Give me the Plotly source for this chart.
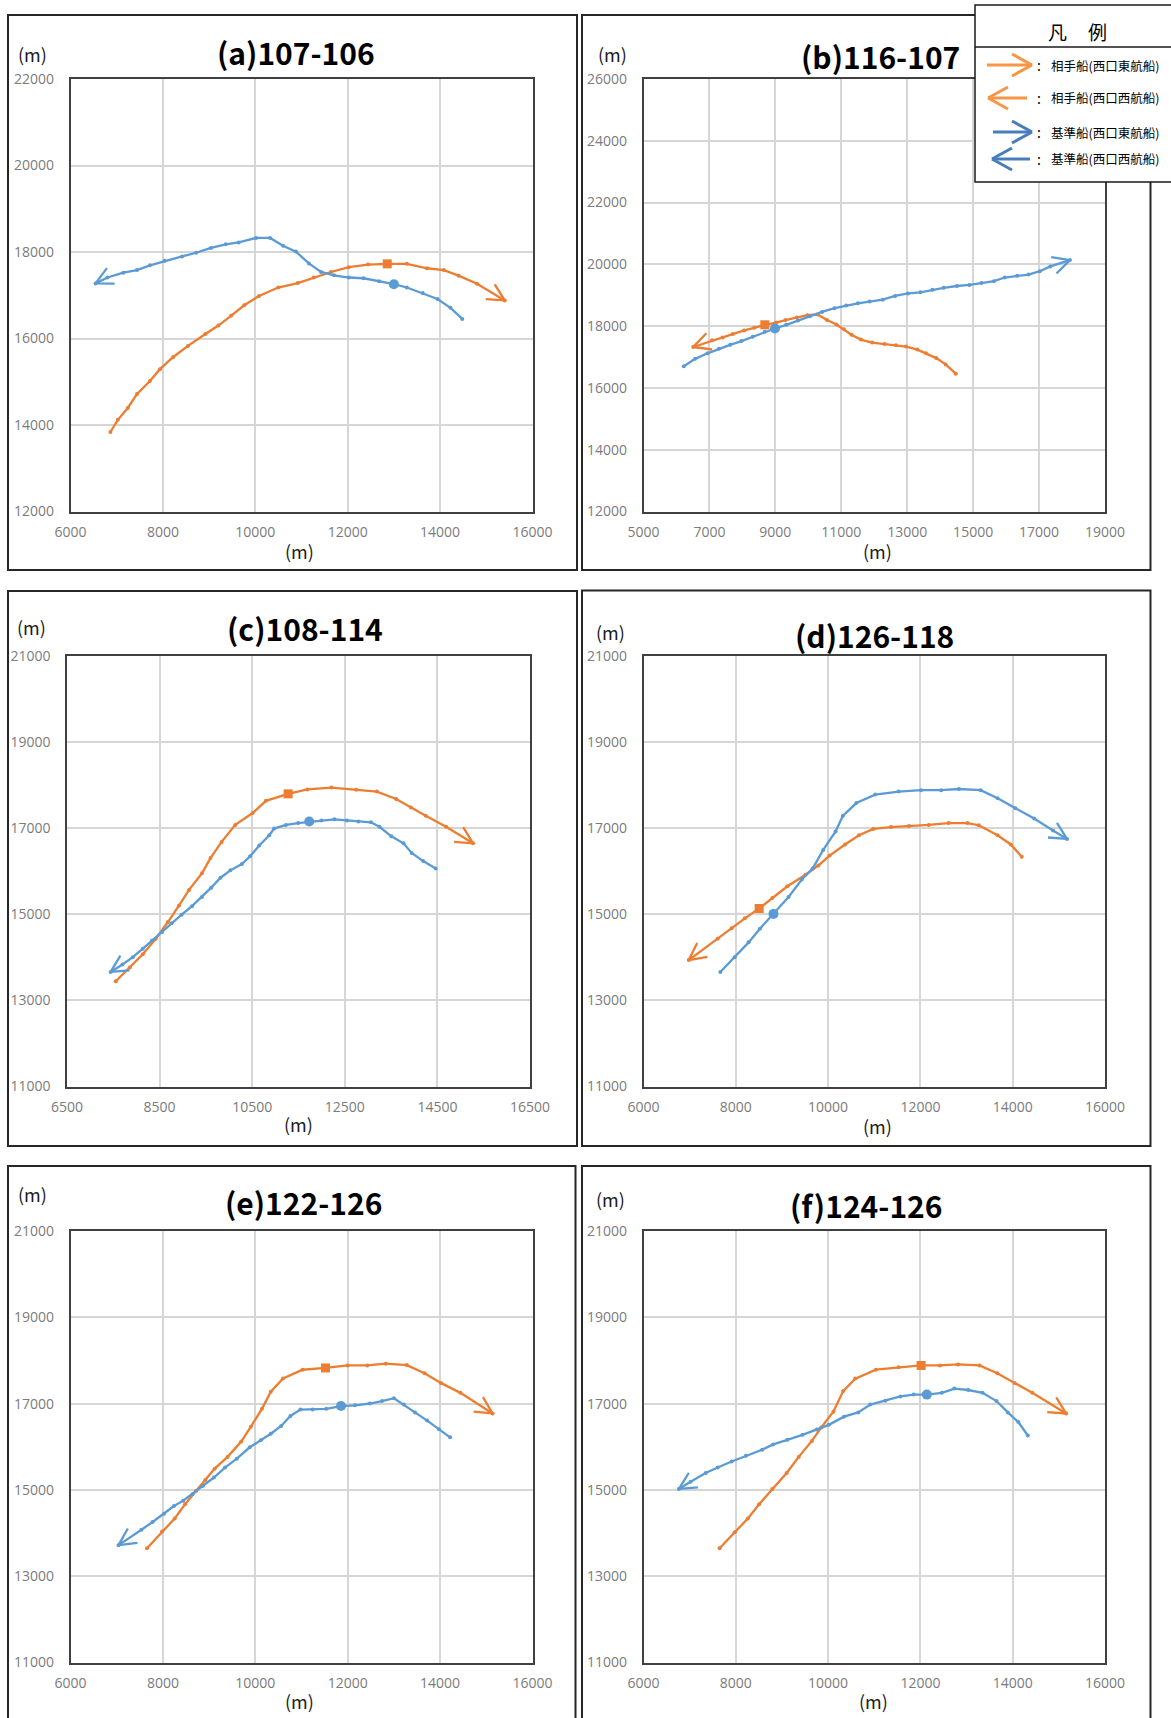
import math
import plotly.graph_objects as go

W, H = 1171, 1718
ORANGE = "#ED7D31"
BLUE = "#5B9BD5"
LEG_ORANGE = "#F79646"
LEG_BLUE = "#4A7EBB"
JP_FONT = "Noto Sans CJK JP"

# ---------------- trajectory data (m), listed in the direction of travel ----------------
# (a) 107-106
A_ORANGE_X = [6864, 7024, 7240, 7440, 7720, 7936, 8224, 8544, 8920, 9200, 9480, 9760, 10080,
              10496, 10920, 11264, 11640, 12024, 12440, 12856, 13280, 13720, 14080, 14400, 14800, 15400]
A_ORANGE_Y = [13838, 14120, 14393, 14718, 15017, 15291, 15573, 15829, 16103, 16299, 16530, 16769, 16983,
              17179, 17282, 17410, 17538, 17650, 17709, 17726, 17726, 17624, 17581, 17453, 17265, 16880]
A_BLUE_X = [14480, 14224, 13944, 13624, 13280, 13000, 12680, 12344, 12024, 11704, 11424, 11160, 10880, 10600,
            10320, 10016, 9640, 9360, 9040, 8720, 8416, 8040, 7720, 7440, 7144, 6800, 6544]
A_BLUE_Y = [16453, 16710, 16915, 17051, 17179, 17256, 17325, 17393, 17410, 17462, 17538, 17735, 18009, 18145,
            18325, 18325, 18222, 18179, 18094, 17983, 17897, 17795, 17692, 17581, 17521, 17410, 17274]
A_ORANGE_MARK = 19
A_BLUE_MARK = 5

# (b) 116-107
B_ORANGE_X = [14474, 14166, 13880, 13571, 13309, 12966, 12657, 12314, 11937, 11594, 11309, 11080, 10851,
              10566, 10280, 9971, 9651, 9309, 9023, 8680, 8360, 8051, 7709, 7400, 7080, 6509]
B_ORANGE_Y = [16463, 16762, 16966, 17121, 17241, 17337, 17384, 17420, 17468, 17564, 17720, 17899, 18055,
              18198, 18378, 18354, 18282, 18198, 18114, 18043, 17947, 17863, 17744, 17636, 17540, 17325]
B_BLUE_X = [6223, 6566, 6943, 7286, 7629, 7971, 8314, 8680, 8989, 9331, 9686, 10051, 10417, 10794, 11149,
            11503, 11857, 12257, 12634, 13023, 13400, 13766, 14109, 14509, 14886, 15251, 15629, 15960,
            16337, 16680, 17023, 17343, 17937]
B_BLUE_Y = [16702, 16942, 17121, 17265, 17396, 17516, 17660, 17815, 17923, 18043, 18186, 18318, 18461, 18581,
            18665, 18737, 18797, 18857, 18976, 19060, 19096, 19179, 19239, 19299, 19335, 19395, 19455, 19574,
            19634, 19670, 19778, 19933, 20137]
B_ORANGE_MARK = 19
B_BLUE_MARK = 8

# (c) 108-114
C_ORANGE_X = [7554, 7858, 8137, 8417, 8681, 8920, 9136, 9415, 9599, 9839, 10134, 10510, 10797, 11276,
              11692, 12211, 12746, 13193, 13609, 13928, 14248, 14687, 15270]
C_ORANGE_Y = [13446, 13764, 14073, 14433, 14820, 15206, 15567, 15953, 16305, 16682, 17077, 17352, 17635, 17798,
              17901, 17944, 17893, 17850, 17678, 17481, 17292, 17034, 16648]
C_BLUE_X = [14463, 14192, 13944, 13768, 13505, 13249, 13065, 12794, 12546, 12275, 11995, 11732, 11492, 11228,
            10973, 10869, 10653, 10454, 10278, 10030, 9815, 9615, 9415, 9200, 8976, 8760, 8553, 8337,
            8137, 7922, 7698, 7442]
C_BLUE_Y = [16064, 16236, 16425, 16648, 16811, 17034, 17137, 17154, 17180, 17206, 17180, 17154, 17120, 17077,
            16991, 16837, 16597, 16348, 16167, 16021, 15850, 15618, 15403, 15189, 14991, 14794, 14588, 14391,
            14202, 14004, 13833, 13661]
C_ORANGE_MARK = 13
C_BLUE_MARK = 11

# (d) 126-118
D_ORANGE_X = [14196, 13959, 13673, 13265, 13020, 12612, 12180, 11755, 11363, 10980, 10669, 10367, 10033,
              9788, 9510, 9118, 8792, 8506, 8196, 7910, 7608, 6980]
D_ORANGE_Y = [16339, 16622, 16837, 17069, 17120, 17120, 17077, 17051, 17026, 16983, 16837, 16622, 16365,
              16133, 15918, 15652, 15378, 15137, 14906, 14674, 14434, 13936]
D_BLUE_X = [7665, 7976, 8278, 8522, 8816, 9143, 9429, 9665, 9894, 10163, 10318, 10612, 11020, 11527, 12016,
            12449, 12833, 13306, 13673, 14057, 14465, 14873, 15176]
D_BLUE_Y = [13661, 14004, 14348, 14665, 15009, 15403, 15807, 16064, 16494, 16923, 17283, 17584, 17781, 17850,
            17884, 17884, 17910, 17884, 17695, 17464, 17223, 16948, 16751]
D_ORANGE_MARK = 17
D_BLUE_MARK = 4

# (e) 122-126
E_ORANGE_X = [7656, 7984, 8256, 8480, 8720, 8920, 9120, 9400, 9696, 9904, 10144, 10336, 10600, 11024,
              11520, 12000, 12424, 12824, 13280, 13664, 14016, 14440, 15136]
E_ORANGE_Y = [13646, 14034, 14339, 14669, 14982, 15229, 15493, 15765, 16120, 16466, 16878, 17274, 17580, 17785,
              17826, 17884, 17884, 17925, 17892, 17702, 17480, 17249, 16771]
E_BLUE_X = [14216, 13976, 13720, 13456, 13216, 13000, 12744, 12480, 12160, 11856, 11536, 11240, 10976, 10760,
            10560, 10336, 10120, 9880, 9600, 9344, 9104, 8864, 8640, 8440, 8240, 8024, 7776, 7536, 7040]
E_BLUE_Y = [16218, 16408, 16606, 16796, 16977, 17125, 17060, 17002, 16960, 16944, 16878, 16862, 16862, 16713,
            16482, 16301, 16153, 15988, 15724, 15518, 15287, 15089, 14899, 14751, 14627, 14446, 14256, 14075,
            13720]
E_ORANGE_MARK = 14
E_BLUE_MARK = 9

# (f) 124-126
F_ORANGE_X = [7649, 7976, 8261, 8506, 8792, 9102, 9363, 9649, 9853, 10114, 10327, 10588, 11037, 11527,
              12016, 12424, 12816, 13282, 13665, 14041, 14424, 15159]
F_ORANGE_Y = [13646, 14017, 14339, 14669, 15023, 15394, 15765, 16136, 16449, 16812, 17290, 17579, 17785, 17843,
              17884, 17884, 17908, 17884, 17702, 17480, 17249, 16771]
F_BLUE_X = [14327, 14122, 13894, 13649, 13347, 13037, 12735, 12465, 12139, 11853, 11567, 11241, 10914, 10653,
            10343, 10016, 9755, 9445, 9118, 8808, 8571, 8220, 7910, 7608, 7347, 7020, 6767]
F_BLUE_Y = [16260, 16573, 16796, 17059, 17249, 17315, 17348, 17249, 17208, 17208, 17167, 17068, 16977, 16796,
            16697, 16507, 16400, 16276, 16161, 16054, 15930, 15790, 15658, 15518, 15394, 15188, 15023]
F_ORANGE_MARK = 14
F_BLUE_MARK = 8

# ---------------- axis ticks ----------------
TICKS_X_A = [6000, 8000, 10000, 12000, 14000, 16000]
TICKS_Y_A = [12000, 14000, 16000, 18000, 20000, 22000]
TICKS_X_B = [5000, 7000, 9000, 11000, 13000, 15000, 17000, 19000]
TICKS_Y_B = [12000, 14000, 16000, 18000, 20000, 22000, 24000, 26000]
TICKS_X_C = [6500, 8500, 10500, 12500, 14500, 16500]
TICKS_X_DEF = [6000, 8000, 10000, 12000, 14000, 16000]
TICKS_Y_CDEF = [11000, 13000, 15000, 17000, 19000, 21000]

TITLES = ["(a)107-106", "(b)116-107", "(c)108-114", "(d)126-118", "(e)122-126", "(f)124-126"]
UNIT = "(m)"

LEGEND_TITLE = ["凡", "例"]
LEGEND_LABELS = ["相手船(西口東航船)", "相手船(西口西航船)", "基準船(西口東航船)", "基準船(西口西航船)"]

# ---------------- panel geometry (pixels) ----------------
# plot box, outer frame, title centre, y-unit centre, x-unit centre
GEOM = [
    dict(plot=(70.5, 79, 532.5, 511.5), frame=(8, 15, 577, 570), title=(296, 52), ym=(32, 54), xm=(299, 551)),
    dict(plot=(643.5, 79, 1105, 511.5), frame=(582, 15, 1150.5, 570), title=(880, 56), ym=(612, 54), xm=(877, 551)),
    dict(plot=(67, 656, 530, 1086.5), frame=(8, 591, 577, 1146), title=(305, 628), ym=(31, 627), xm=(298, 1124)),
    dict(plot=(643.5, 656, 1105, 1086.5), frame=(582, 590.5, 1150.5, 1146), title=(874, 635), ym=(610, 632), xm=(877, 1126)),
    dict(plot=(70.5, 1231, 532.5, 1662.5), frame=(8, 1166, 575.5, 1730), title=(303, 1202), ym=(32, 1194), xm=(299, 1701)),
    dict(plot=(643.5, 1231, 1105, 1662.5), frame=(582, 1166, 1150.5, 1730), title=(866, 1205), ym=(610, 1199), xm=(873, 1701)),
]

PANELS = [
    dict(ox=A_ORANGE_X, oy=A_ORANGE_Y, bx=A_BLUE_X, by=A_BLUE_Y, om=A_ORANGE_MARK, bm=A_BLUE_MARK,
         xt=TICKS_X_A, yt=TICKS_Y_A),
    dict(ox=B_ORANGE_X, oy=B_ORANGE_Y, bx=B_BLUE_X, by=B_BLUE_Y, om=B_ORANGE_MARK, bm=B_BLUE_MARK,
         xt=TICKS_X_B, yt=TICKS_Y_B),
    dict(ox=C_ORANGE_X, oy=C_ORANGE_Y, bx=C_BLUE_X, by=C_BLUE_Y, om=C_ORANGE_MARK, bm=C_BLUE_MARK,
         xt=TICKS_X_C, yt=TICKS_Y_CDEF),
    dict(ox=D_ORANGE_X, oy=D_ORANGE_Y, bx=D_BLUE_X, by=D_BLUE_Y, om=D_ORANGE_MARK, bm=D_BLUE_MARK,
         xt=TICKS_X_DEF, yt=TICKS_Y_CDEF),
    dict(ox=E_ORANGE_X, oy=E_ORANGE_Y, bx=E_BLUE_X, by=E_BLUE_Y, om=E_ORANGE_MARK, bm=E_BLUE_MARK,
         xt=TICKS_X_DEF, yt=TICKS_Y_CDEF),
    dict(ox=F_ORANGE_X, oy=F_ORANGE_Y, bx=F_BLUE_X, by=F_BLUE_Y, om=F_ORANGE_MARK, bm=F_BLUE_MARK,
         xt=TICKS_X_DEF, yt=TICKS_Y_CDEF),
]

ARROW_LEN = 19      # px
ARROW_HALF = math.radians(27)


def px(x):
    return x / W


def py(y):
    return 1 - y / H


def arrow_head(xs, ys, sx, sy):
    """Open V head at the last point, aligned with the final segment."""
    xt, yt = xs[-1], ys[-1]
    ux, uy = (xt - xs[-2]) * sx, (yt - ys[-2]) * sy
    n = math.hypot(ux, uy)
    bx, by = -ux / n, -uy / n
    pts = []
    for a in (ARROW_HALF, -ARROW_HALF):
        rx = bx * math.cos(a) - by * math.sin(a)
        ry = bx * math.sin(a) + by * math.cos(a)
        pts.append((xt + ARROW_LEN * rx / sx, yt + ARROW_LEN * ry / sy))
    return [pts[0][0], xt, pts[1][0]], [pts[0][1], yt, pts[1][1]]


fig = go.Figure()
shapes = []
annotations = []
axis_font = dict(family="Open Sans", size=14, color="#7b7b7b")

for i, (p, g) in enumerate(zip(PANELS, GEOM)):
    k = "" if i == 0 else str(i + 1)
    x0, y0, x1, y1 = g["plot"]
    xr = [p["xt"][0], p["xt"][-1]]
    yr = [p["yt"][0], p["yt"][-1]]
    sx = (x1 - x0) / (xr[1] - xr[0])
    sy = (y1 - y0) / (yr[1] - yr[0])

    common = dict(showgrid=True, gridcolor="#d6d6d6", gridwidth=1.5, zeroline=False,
                  showline=True, mirror=True, linecolor="#404040", linewidth=1.5,
                  ticks="", tickfont=axis_font, tickformat="d", fixedrange=True, automargin=False)
    fig.layout["xaxis" + k] = dict(domain=[px(x0), px(x1)], range=xr, tickvals=p["xt"],
                                   anchor="y" + k, ticklabelstandoff=7, **common)
    fig.layout["yaxis" + k] = dict(domain=[py(y1), py(y0)], range=yr, tickvals=p["yt"],
                                   anchor="x" + k, ticklabelstandoff=12, **common)

    for xs, ys, col, mi, sym, msz in ((p["ox"], p["oy"], ORANGE, p["om"], "square", 9),
                                      (p["bx"], p["by"], BLUE, p["bm"], "circle", 10)):
        fig.add_trace(go.Scatter(x=xs, y=ys, mode="lines+markers", xaxis="x" + k, yaxis="y" + k,
                                 line=dict(color=col, width=2.3), marker=dict(color=col, size=4),
                                 showlegend=False, hoverinfo="skip"))
        ax, ay = arrow_head(xs, ys, sx, sy)
        fig.add_trace(go.Scatter(x=ax, y=ay, mode="lines", xaxis="x" + k, yaxis="y" + k,
                                 line=dict(color=col, width=2.3), showlegend=False, hoverinfo="skip"))
        fig.add_trace(go.Scatter(x=[xs[mi]], y=[ys[mi]], mode="markers", xaxis="x" + k, yaxis="y" + k,
                                 marker=dict(color=col, size=msz, symbol=sym),
                                 showlegend=False, hoverinfo="skip"))

    fx0, fy0, fx1, fy1 = g["frame"]
    shapes.append(dict(type="rect", xref="paper", yref="paper", x0=px(fx0), x1=px(fx1),
                       y0=py(fy1), y1=py(fy0), line=dict(color="#262626", width=2), layer="above"))

    annotations.append(dict(text="<b>" + TITLES[i] + "</b>", x=px(g["title"][0]), y=py(g["title"][1]),
                            xref="paper", yref="paper", showarrow=False, xanchor="center", yanchor="middle",
                            font=dict(family=JP_FONT, size=30, color="#000000")))
    for pos in (g["ym"], g["xm"]):
        annotations.append(dict(text=UNIT, x=px(pos[0]), y=py(pos[1]), xref="paper", yref="paper",
                                showarrow=False, xanchor="center", yanchor="middle",
                                font=dict(family=JP_FONT, size=18, color="#1a1a1a")))

# ---------------- legend box ----------------
shapes.append(dict(type="rect", xref="paper", yref="paper", x0=px(975), x1=px(1180), y0=py(182), y1=py(5),
                   fillcolor="white", line=dict(color="#1a1a1a", width=1.5), layer="above"))
shapes.append(dict(type="line", xref="paper", yref="paper", x0=px(975), x1=px(1180), y0=py(47), y1=py(47),
                   line=dict(color="#1a1a1a", width=1.5), layer="above"))
for ch, cx in zip(LEGEND_TITLE, (1057, 1097)):
    annotations.append(dict(text=ch, x=px(cx), y=py(32), xref="paper", yref="paper", showarrow=False,
                            xanchor="center", yanchor="middle", font=dict(family=JP_FONT, size=19, color="#000")))

LEGEND_ROWS = [  # (y, tail x, tip x, colour)
    (65, 987, 1032, LEG_ORANGE),
    (98, 1027, 988, LEG_ORANGE),
    (132, 993, 1032, LEG_BLUE),
    (159, 1030, 992, LEG_BLUE),
]
for (yy, xa, xb, col), label in zip(LEGEND_ROWS, LEGEND_LABELS):
    d = 1 if xb > xa else -1
    segs = [((xa, yy), (xb, yy)), ((xb - d * 20, yy - 11), (xb, yy)), ((xb - d * 20, yy + 11), (xb, yy))]
    for (ax0, ay0), (ax1, ay1) in segs:
        shapes.append(dict(type="line", xref="paper", yref="paper", x0=px(ax0), x1=px(ax1),
                           y0=py(ay0), y1=py(ay1), line=dict(color=col, width=3), layer="above"))
    annotations.append(dict(text=":", x=px(1039), y=py(yy), xref="paper", yref="paper", showarrow=False,
                            xanchor="center", yanchor="middle",
                            font=dict(family=JP_FONT, size=14, color="#000")))
    annotations.append(dict(text=label, x=px(1049), y=py(yy), xref="paper", yref="paper", showarrow=False,
                            xanchor="left", yanchor="middle",
                            font=dict(family=JP_FONT, size=12.5, color="#000")))

fig.update_layout(width=W, height=H, autosize=False, margin=dict(l=0, r=0, t=0, b=0, pad=0),
                  paper_bgcolor="white", plot_bgcolor="white", shapes=shapes, annotations=annotations,
                  showlegend=False)

fig.write_html("out.html", config=dict(displayModeBar=False))
